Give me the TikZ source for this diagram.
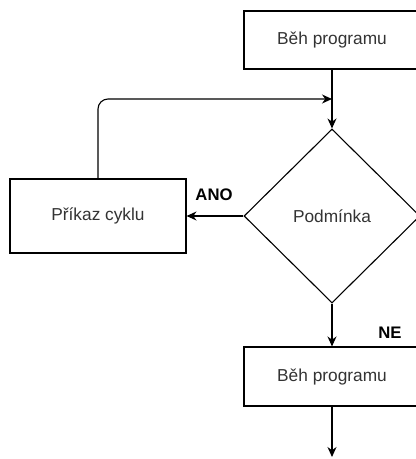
\documentclass[tikz,border=0pt]{standalone}
\usepackage{fontspec}
\setmainfont{Liberation Sans}
\usetikzlibrary{shapes.geometric,arrows.meta}
\begin{document}
\begin{tikzpicture}[x=1pt,y=-1pt,
  line width=1.1pt,
  box/.style={draw, rectangle, minimum width=176pt, minimum height=58pt, inner sep=0pt, font=\fontsize{17.3}{20}\selectfont, text=black!80},
  cond/.style={draw, diamond, minimum width=176pt, minimum height=174pt, inner sep=0pt, font=\fontsize{17.3}{20}\selectfont, text=black!80},
  lbl/.style={font=\fontsize{16.7}{20}\selectfont\bfseries, inner sep=0pt},
  arr/.style={-{Stealth[length=10pt,width=9pt]}}]
\useasboundingbox (0,0) rectangle (416,459);
\clip (0,0) rectangle (416,459);
\node[box] (top) at (332,40) {Běh programu};
\node[cond] (podm) at (332,216) {Podmínka};
\node[box, minimum width=176pt, minimum height=74pt] (cyk) at (98,216) {Příkaz cyklu};
\node[box, minimum height=59pt] (bot) at (332,376.5) {Běh programu};
\coordinate (join) at (332,99);
\coordinate (end) at (332,457);
\node[lbl] (ano) at (214,194.5) {ANO};
\node[lbl] (ne) at (390,333) {NE};
\draw[arr] (top) -- (podm);
\draw[arr, rounded corners=10pt] (cyk.north) |- (join);
\draw[arr] (podm.west) -- (cyk.east);
\draw[arr] (podm.south) -- (bot.north);
\draw[arr] (bot.south) -- (end);
\end{tikzpicture}
\end{document}
